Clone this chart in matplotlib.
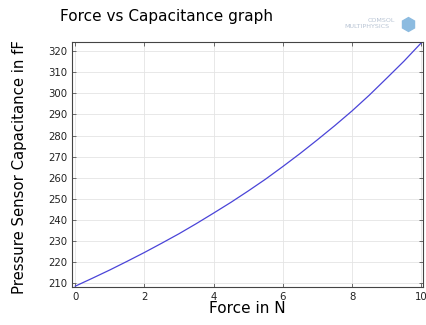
import matplotlib.pyplot as plt
from matplotlib.lines import Line2D

# force (N) vs capacitance (fF)
force = [0, 0.5, 1, 1.5, 2, 2.5, 3, 3.5, 4, 4.5, 5,
         5.5, 6, 6.5, 7, 7.5, 8, 8.5, 9, 9.5, 10]
capacitance = [208.5, 212.3, 216.2, 220.3, 224.5, 228.9, 233.4, 238.2, 243.2, 248.3, 253.7,
               259.3, 265.3, 271.5, 278.0, 284.7, 291.7, 299.2, 307.2, 315.3, 324.0]

xticks = [0, 2, 4, 6, 8, 10]
yticks = [210, 220, 230, 240, 250, 260, 270, 280, 290, 300, 310, 320]

fig = plt.figure(figsize=(4.27, 3.25), dpi=100)
ax = fig.add_axes([72.5 / 427, 1 - 287 / 325, 350.5 / 427, 245 / 325])

ax.plot(force, capacitance, color='#4a44d8', linewidth=0.9)

ax.set_xlim(-0.08, 10.05)
ax.set_ylim(208.1, 324.4)
ax.set_xticks(xticks)
ax.set_yticks(yticks)
ax.grid(True, color='#e4e4e4', linewidth=0.6)
ax.tick_params(direction='in', top=True, right=True, length=3, width=0.6,
               color='#555555', labelsize=7.3, labelcolor='#222222', pad=3.5)
for s in ax.spines.values():
    s.set_color('#444444')
    s.set_linewidth(0.8)

ax.set_xlabel('Force in N', fontsize=11, labelpad=-0.5)
ax.set_ylabel('Pressure Sensor Capacitance in fF', fontsize=10.7)
ax.yaxis.set_label_coords(-0.13, 0.49)

fig.text(60 / 427, 1 - 16 / 325, 'Force vs Capacitance graph', fontsize=11,
         va='center', ha='left')

# faint software logo, top right
fig.text(395 / 427, 1 - 20 / 325, 'COMSOL', fontsize=4.6, color='#b8c4d4',
         ha='right', va='center')
fig.text(390 / 427, 1 - 27 / 325, 'MULTIPHYSICS', fontsize=4.6, color='#b8c4d4',
         ha='right', va='center')
fig.add_artist(Line2D([408 / 427], [1 - 24 / 325], marker='h', markersize=10,
                      color='#8cbbe0', transform=fig.transFigure))

fig.savefig('out.png', dpi=100)
